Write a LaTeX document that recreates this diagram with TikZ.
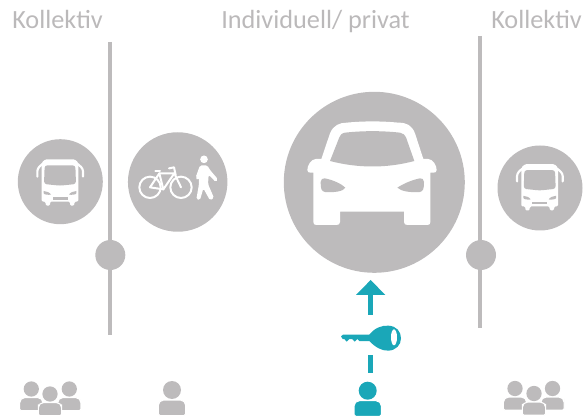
\documentclass[tikz,border=0pt]{standalone}
\usepackage{fontspec}
\setmainfont{Carlito}
\definecolor{sgrey}{HTML}{BDBBBC}
\definecolor{stext}{HTML}{BBB9BA}
\definecolor{steal}{HTML}{1AA7B8}
\tikzset{
  disc/.style={circle,fill=sgrey,inner sep=0pt,minimum size=#1*0.75pt},
  pole/.style={draw=sgrey,line width=3pt},
  heading/.style={text=stext,font=\fontsize{19.7pt}{22pt}\selectfont,anchor=base west,inner sep=0pt},
  zoomed/.style={x=0.25pt,y=-0.25pt}
}
\newcommand{\personicon}[4]{%
  \begin{scope}[shift={(#1,#2)},scale=#3]
    \path[fill=#4,draw=white,line width=0.8pt] (-13.7,25.6) [rounded corners=1.2pt] -- (-13.7,14) [rounded corners=4pt] -- (-13.7,10) -- (13.7,10) [rounded corners=1.2pt] -- (13.7,14) -- (13.7,25.6) -- cycle;
    \path[fill=#4] (0,0) circle[radius=9];
  \end{scope}}
\newcommand{\busicon}[2]{%
  \begin{scope}[shift={(#1,#2)},zoomed]
    \draw[white,line width=1.6pt,line cap=round,line join=round,rounded corners=2pt] (127,132) -- (112,146) -- (112,170);
    \draw[white,line width=1.6pt,line cap=round,line join=round,rounded corners=2pt] (233,132) -- (249,146) -- (249,170);
    \fill[white,rounded corners=1pt] (125,245) -- (125,128) -- (136,118) -- (224,118) -- (235,128) -- (235,245) -- (223,245) -- (223,257) -- (210,257) -- (210,245) -- (150,245) -- (150,257) -- (137,257) -- (137,245) -- cycle;
    \fill[sgrey,rounded corners=2pt] (134,136) -- (226,136) -- (228,192) -- (180,197) -- (132,192) -- cycle;
    \fill[sgrey] (131,213) .. controls (140,213) and (150,218) .. (153,224) .. controls (143,225) and (133,224) .. (131,220) -- cycle;
    \fill[sgrey] (229,213) .. controls (220,213) and (210,218) .. (207,224) .. controls (217,225) and (227,224) .. (229,220) -- cycle;
    \fill[sgrey] (158,232) rectangle (203,239);
  \end{scope}}
\begin{document}
\begin{tikzpicture}[x=0.75pt,y=-0.75pt]
\useasboundingbox (0,0) rectangle (586,417);
% headings
\node[heading] (h1) at (12,29) {Kollektiv};
\node[heading] (h2) at (221,29) {Individuell/ privat};
\node[heading] (h3) at (491,29) {Kollektiv};
% poles with junctions
\coordinate (p1a) at (110.3,42);
\coordinate (p1b) at (110.3,335);
\coordinate (p2a) at (480.3,36);
\coordinate (p2b) at (480.3,328);
\draw[pole] (p1a) -- (p1b);
\draw[pole] (p2a) -- (p2b);
\node[disc=30] (j1) at (110.3,255) {};
\node[disc=30] (j2) at (481,255) {};
% discs
\node[disc=85] (busL) at (60.3,181.7) {};
\node[disc=99.5] (walk) at (177.7,182) {};
\node[disc=181] (car) at (374.3,182.3) {};
\node[disc=85] (busR) at (540,188) {};
% bus icons
\busicon{0}{120}
\busicon{479.7}{124.8}
% bicycle and pedestrian
\begin{scope}[shift={(0,120)},zoomed]
  \begin{scope}[white,line width=1.5pt,line join=round,line cap=round]
    \draw (450,202) ellipse[x radius=32,y radius=32];
    \draw (543,202) ellipse[x radius=32,y radius=32];
    \draw (450,202) -- (478,160) -- (523,160) -- (543,202);
    \draw (450,202) -- (490,208) -- (523,160);
    \draw (478,160) -- (490,208) ;
    \draw (466,154) -- (480,154);
    \draw (507,145) -- (522,142) -- (527,165);
  \end{scope}
  \fill[white] (612,118) circle[radius=11.5];
  \fill[white,rounded corners=1.2pt] (600,136) -- (622,136) -- (630,150) -- (654,178) -- (647,186) -- (626,164) -- (624,192) -- (642,234) -- (630,241) -- (610,205) -- (600,240) -- (589,238) -- (597,192) -- (596,172) -- (593,182) -- (587,172) -- cycle;
\end{scope}
% car
\begin{scope}[shift={(280,90)},zoomed]
  \fill[white] (150,130) .. controls (160,105) and (180,98) .. (200,98) .. controls (250,93) and (305,93) .. (355,98) .. controls (380,98) and (395,105) .. (405,130) -- (430,207) -- (445,207) .. controls (458,208) and (470,225) .. (470,240) .. controls (470,246) and (466,248) .. (460,248) -- (451,248) -- (451,396) .. controls (451,402) and (448,405) .. (442,405) -- (382,405) .. controls (376,405) and (372,402) .. (372,396) -- (372,365) -- (180,365) -- (180,396) .. controls (180,402) and (176,405) .. (170,405) -- (109,405) .. controls (103,405) and (100,402) .. (100,396) -- (100,248) -- (92,248) .. controls (86,248) and (82,246) .. (82,240) .. controls (82,225) and (94,208) .. (107,207) -- (124,207) -- cycle;
  \fill[sgrey] (178,142) .. controls (180,135) and (185,130) .. (195,128) .. controls (250,122) and (305,122) .. (360,128) .. controls (370,130) and (375,135) .. (378,142) -- (403,213) .. controls (320,235) and (235,235) .. (150,213) -- cycle;
  \fill[sgrey] (122,276) .. controls (122,268) and (128,264) .. (134,265) .. controls (160,270) and (185,282) .. (196,293) .. controls (190,304) and (165,308) .. (135,306) .. controls (124,304) and (122,296) .. (122,276) -- cycle;
  \fill[sgrey] (432,276) .. controls (432,268) and (426,264) .. (420,265) .. controls (394,270) and (369,282) .. (352,293) .. controls (364,304) and (389,308) .. (419,306) .. controls (430,304) and (432,296) .. (432,276) -- cycle;
\end{scope}
% teal arrow, key, person
\begin{scope}[shift={(330,275)},zoomed]
  \coordinate (a0) at (122.5,120);
  \coordinate (a1) at (122.5,50);
  \draw[steal,line width=3.7pt] (a0) -- (a1);
  \fill[steal] (122,15) -- (166,60) -- (78,60) -- cycle;
  \coordinate (d0) at (122.5,240);
  \coordinate (d1) at (122.5,293);
  \draw[steal,line width=3.7pt] (d0) -- (d1);
  \fill[steal] (33,184) -- (39,179) -- (118,179) .. controls (135,158) and (155,151) .. (175,152) .. controls (200,153) and (213,170) .. (213,190) .. controls (213,210) and (198,226) .. (175,227) .. controls (155,228) and (135,216) .. (118,198) -- (88,198) -- (82,192) -- (74,200) -- (66,192) -- (58,192) -- (50,200) -- (43,192) -- (38,192) -- cycle;
  \fill[white] (192,187) ellipse[x radius=9,y radius=24];
\end{scope}
\personicon{367.7}{390.7}{1}{steal}
% grey people
\personicon{172}{390}{1}{sgrey}
\personicon{31.3}{389}{.85}{sgrey}
\personicon{69.3}{389}{.85}{sgrey}
\personicon{50}{394}{.85}{sgrey}
\personicon{515}{388.5}{.85}{sgrey}
\personicon{552.5}{388.5}{.85}{sgrey}
\personicon{534}{393.5}{.85}{sgrey}
\end{tikzpicture}
\end{document}
